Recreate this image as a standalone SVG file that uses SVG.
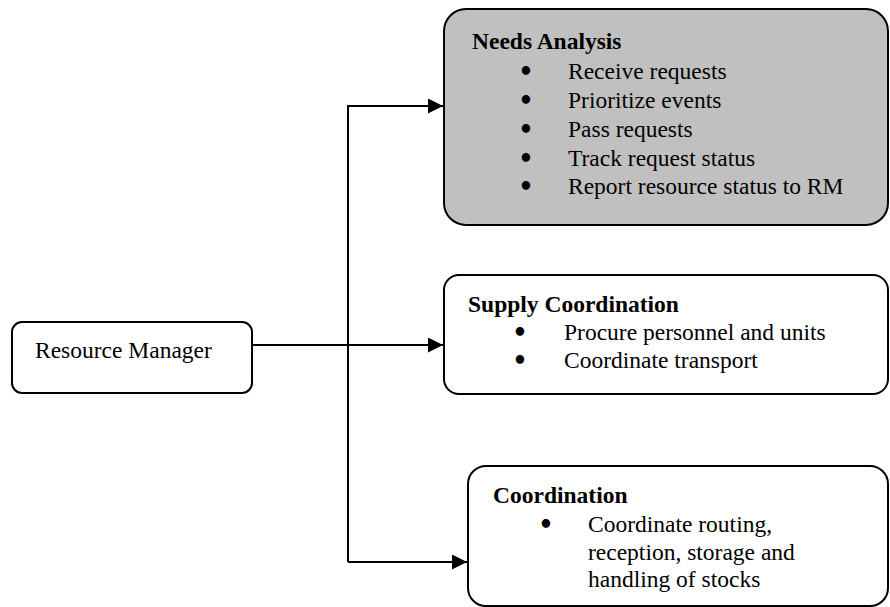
<svg xmlns="http://www.w3.org/2000/svg" width="890" height="607" viewBox="0 0 890 607">
<style>
.box{fill:#fff;stroke:#000;stroke-width:2}
.grey{fill:#c0c0c0}
text{font-family:"Liberation Serif","Times New Roman",serif;font-size:23.5px;fill:#000}
.t{font-weight:bold}
.b{text-anchor:middle;font-family:"DejaVu Sans",sans-serif;font-weight:bold;font-size:24px}
.c{fill:none;stroke:#000;stroke-width:2}
</style>
<defs>
<marker id="ah" markerWidth="15" markerHeight="15" refX="15" refY="7.5" orient="auto" markerUnits="userSpaceOnUse">
<path d="M0,0 L15,7.5 L0,15 Z" fill="#000"/>
</marker>
</defs>
<g id="connectors">
<path class="c" d="M348,562 V106 H443" marker-end="url(#ah)"/>
<path class="c" d="M348,562 H467" marker-end="url(#ah)"/>
<path class="c" d="M252,345 H443" marker-end="url(#ah)"/>
</g>
<g id="resource-manager">
<rect class="box" x="12" y="322" width="240" height="71" rx="10"/>
<text x="35" y="358">Resource Manager</text>
</g>
<g id="needs-analysis">
<rect class="box grey" x="444" y="9" width="444" height="216" rx="22"/>
<text class="t" x="472" y="49">Needs Analysis</text>
<text class="b" x="526" y="80">•</text><text x="568" y="79">Receive requests</text>
<text class="b" x="526" y="109">•</text><text x="568" y="108">Prioritize events</text>
<text class="b" x="526" y="138">•</text><text x="568" y="137">Pass requests</text>
<text class="b" x="526" y="167">•</text><text x="568" y="166">Track request status</text>
<text class="b" x="526" y="195">•</text><text x="568" y="194">Report resource status to RM</text>
</g>
<g id="supply-coordination">
<rect class="box" x="444" y="275" width="444" height="119" rx="15"/>
<text class="t" x="468" y="312">Supply Coordination</text>
<text class="b" x="520" y="341">•</text><text x="564" y="340">Procure personnel and units</text>
<text class="b" x="520" y="369">•</text><text x="564" y="368">Coordinate transport</text>
</g>
<g id="coordination">
<rect class="box" x="468" y="466" width="420" height="140" rx="18"/>
<text class="t" x="493" y="503">Coordination</text>
<text class="b" x="546" y="533">•</text><text x="588" y="532">Coordinate routing,</text>
<text x="588" y="560">reception, storage and</text>
<text x="588" y="587">handling of stocks</text>
</g>
</svg>
